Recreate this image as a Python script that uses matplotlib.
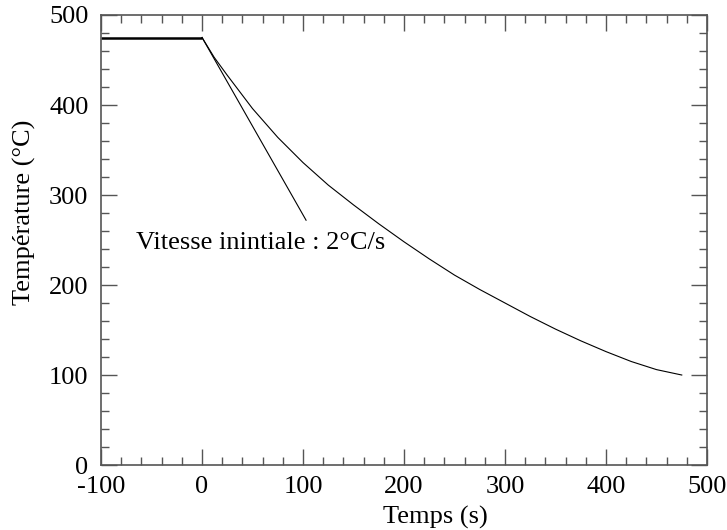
import matplotlib

matplotlib.use("Agg")
import matplotlib.pyplot as plt
from matplotlib.ticker import MultipleLocator

# Palier de maintien avant refroidissement
palier_t = [-100, 0]
palier_T = [475, 475]

# Courbe de refroidissement
temps = [0, 12, 25, 50, 75, 100, 125, 150, 175, 200, 225, 250, 275, 300, 325,
         350, 375, 400, 425, 450, 475]
temperature = [475, 453, 433, 396, 364, 336, 311, 289, 268, 248, 229, 211, 195,
               180, 165, 151, 138, 126, 115, 106, 100]

# Tangente a l'origine (vitesse initiale)
tangente_t = [0, 103]
tangente_T = [475, 272]

x_ticks = [-100, 0, 100, 200, 300, 400, 500]
y_ticks = [0, 100, 200, 300, 400, 500]


def main():
    plt.rcParams["font.family"] = ["Liberation Serif", "DejaVu Serif"]
    plt.rcParams["axes.unicode_minus"] = False

    fig = plt.figure(figsize=(7.27, 5.30), dpi=100)
    ax = fig.add_axes([0.139, 0.1226, 0.8335, 0.8491])

    ax.plot(palier_t, palier_T, color="black", linewidth=1.8, solid_capstyle="butt")
    ax.plot(temps, temperature, color="black", linewidth=0.8)
    ax.plot(tangente_t, tangente_T, color="black", linewidth=0.8)

    ax.text(-65, 247, "Vitesse inintiale : 2°C/s", fontsize=19, va="center", ha="left")

    ax.set_xlim(-100, 500)
    ax.set_ylim(0, 500)
    ax.set_xticks(x_ticks)
    ax.set_yticks(y_ticks)
    ax.xaxis.set_minor_locator(MultipleLocator(20))
    ax.yaxis.set_minor_locator(MultipleLocator(20))

    ax.tick_params(which="both", direction="in", top=True, right=True,
                   color="#555555", width=1.0, labelsize=19)
    ax.tick_params(which="major", length=11.5)
    ax.tick_params(which="minor", length=6)
    ax.tick_params(axis="x", pad=8)
    ax.tick_params(axis="y", pad=9)

    for spine in ax.spines.values():
        spine.set_color("#555555")
        spine.set_linewidth(1.2)

    ax.set_xlabel("Temps (s)", fontsize=19)
    ax.set_ylabel("Température (°C)", fontsize=19)
    ax.xaxis.set_label_coords(0.551, -0.1156)
    ax.xaxis.label.set_va("center")
    ax.yaxis.set_label_coords(-0.127, 0.562)
    ax.yaxis.label.set_va("center")

    fig.savefig("out.png", dpi=100)


if __name__ == "__main__":
    main()
